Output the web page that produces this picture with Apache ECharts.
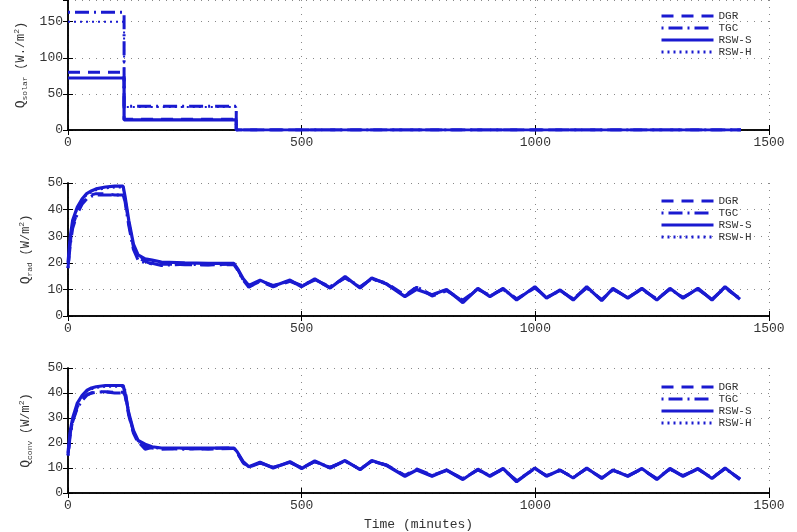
<!DOCTYPE html>
<html>
<head>
<meta charset="utf-8">
<script src="https://cdn.jsdelivr.net/npm/echarts@6/dist/echarts.min.js"></script>
<style>
    html, body { margin: 0; padding: 0; background: #fff; }
    #chart { width: 797px; height: 532px; }
</style>
</head>
<body>
<div id="chart"></div>
<script>
// x tick labels
const xTicks = [0, 500, 1000, 1500];
const seriesNames = ['DGR', 'TGC', 'RSW-S', 'RSW-H'];

// solar panel: step profile
const solarTime = [0, 120, 120, 360, 360, 1440];
const solarDGR = [80, 80, 15, 15, 0, 0];
const solarTGC = [163, 163, 33, 33, 0, 0];
const solarRSWS = [72, 72, 14, 14, 0, 0];
const solarRSWH = [150, 150, 32, 32, 0, 0];

// time samples for the radiative / convective panels
const simTime = [0, 5, 10, 20, 30, 40, 50, 60, 80, 100,
    118, 122, 130, 140, 150, 165, 180, 200, 250, 300,
    355, 362, 375, 387, 411, 439, 475, 500, 528, 561,
    593, 625, 650, 682, 721, 746, 779, 810, 845, 877,
    903, 931, 960, 999, 1024, 1053, 1081, 1110, 1142, 1166,
    1198, 1228, 1260, 1288, 1316, 1348, 1378, 1406, 1438];

const radRSWS = [20, 30, 36, 41, 44, 46, 47, 47.8, 48.5, 48.8,
    48.8, 45, 36, 27, 23, 21.5, 21, 20.3, 20, 19.8,
    19.8, 18, 14, 11.5, 13.5, 11.2, 13.5, 11, 14, 10.5,
    14.8, 10.5, 14.3, 12, 7.3, 10, 8, 10, 5, 10.4,
    7.3, 10.4, 6, 11, 6.7, 9.8, 6, 11, 5.8, 10.4,
    6.7, 10.4, 6, 10.4, 6.7, 10.4, 6, 11, 6.3];
const radDGR = [18, 28, 34, 39, 42.5, 44.5, 45.5, 46, 46, 45.5,
    45.5, 44, 35, 26, 22, 20.5, 19.5, 19.5, 19.3, 19.3,
    19.5, 18, 13.5, 11, 13, 11, 13, 11.3, 13.5, 10.8,
    14.3, 10.8, 14, 12.3, 7.8, 10.8, 7.5, 9.5, 6, 10,
    7.8, 10, 6.5, 10.5, 7, 9.5, 6.5, 10.5, 6.2, 10,
    7, 10, 6.4, 10, 7, 10, 6.4, 10.5, 6.5];
const radTGC = [18, 27, 33, 38.5, 42, 44, 45, 45.5, 45.5, 45.5,
    45.5, 43, 34, 25, 21, 20, 19.8, 19, 19.5, 19.2,
    19.3, 17.5, 13.5, 10.8, 13.2, 11.5, 13.2, 11.5, 13.7, 11,
    14.5, 11, 14, 12, 7.5, 11, 7.8, 9.8, 5.5, 10.2,
    7.5, 10.2, 6.3, 10.8, 6.9, 9.6, 6.3, 10.8, 6, 10.2,
    6.9, 10.2, 6.2, 10.2, 6.9, 10.2, 6.2, 10.8, 6.4];
const radRSWH = [19, 29, 35, 40.5, 43.5, 45.5, 46.5, 47.3, 48, 48.3,
    48.3, 44.5, 35.5, 26.5, 22.5, 21, 20.5, 20, 19.8, 19.7,
    19.7, 17.8, 13.8, 11.3, 13.3, 11.3, 13.3, 11.1, 13.8, 10.6,
    14.6, 10.6, 14.1, 12.1, 7.5, 10.2, 7.9, 9.9, 5.3, 10.3,
    7.4, 10.3, 6.1, 10.9, 6.8, 9.7, 6.1, 10.9, 5.9, 10.3,
    6.8, 10.3, 6.1, 10.3, 6.8, 10.3, 6.1, 10.9, 6.3];

const convRSWS = [16, 25, 30, 36, 39, 41, 42, 42.5, 43, 43,
    43, 40, 32, 25, 21, 19.5, 18.5, 18, 18, 18,
    18, 16.5, 12.5, 10.5, 12.3, 10, 12.5, 9.8, 12.8, 10,
    13, 9.3, 13, 11, 6.7, 9.2, 6.7, 9.2, 5.4, 9.5,
    6.7, 9.8, 4.5, 10, 6.7, 9.2, 6, 10, 5.8, 9.2,
    6.7, 9.8, 5.4, 9.8, 6.7, 9.8, 5.8, 10, 5.4];
const convDGR = [15, 24, 29, 34.5, 37.5, 39.3, 40, 40.5, 40.5, 40.3,
    40.3, 39, 31, 24, 20, 18.5, 18, 17.5, 17.8, 17.5,
    17.8, 16, 12, 10.3, 12, 10.3, 12.2, 10.1, 12.5, 10.3,
    12.7, 9.6, 12.7, 11.2, 7.1, 9.6, 7.1, 9, 5.8, 9.2,
    7, 9.5, 5, 9.7, 7, 9, 6.3, 9.7, 6.2, 9,
    7, 9.5, 5.8, 9.5, 7, 9.5, 6.1, 9.7, 5.7];
const convTGC = [15, 23.5, 28.5, 34, 37, 39, 40, 40.3, 40.5, 40,
    40, 41.5, 31.5, 24.5, 20.5, 17.5, 18.3, 17.8, 17.5, 17.8,
    18, 16.2, 12.2, 10.4, 12.1, 10.2, 12.3, 10, 12.6, 10.2,
    12.8, 9.5, 12.8, 11.1, 6.9, 9.4, 6.9, 9.1, 5.6, 9.3,
    6.9, 9.6, 4.8, 9.8, 6.8, 9.1, 6.2, 9.8, 6, 9.1,
    6.8, 9.6, 5.6, 9.6, 6.8, 9.6, 5.9, 9.8, 5.5];
const convRSWH = [15.5, 24.5, 29.5, 35.5, 38.5, 40.5, 41.5, 42, 42.5, 42.5,
    42.5, 39.5, 31.5, 24.5, 20.7, 19.2, 18.3, 17.9, 17.9, 17.9,
    17.9, 16.3, 12.3, 10.4, 12.2, 10.1, 12.4, 9.9, 12.7, 10.1,
    12.9, 9.4, 12.9, 11.1, 6.8, 9.3, 6.8, 9.2, 5.5, 9.4,
    6.8, 9.7, 4.7, 9.9, 6.8, 9.1, 6.1, 9.9, 5.9, 9.1,
    6.8, 9.7, 5.5, 9.7, 6.8, 9.7, 5.9, 9.9, 5.5];

const blue = '#1a1ad0';
const monoFont = 'Liberation Mono';

const lineTypes = {
    'DGR': { type: [12, 8], width: 3 },
    'TGC': { type: [2, 5, 14, 5], width: 3 },
    'RSW-S': { type: 'solid', width: 3.2 },
    'RSW-H': { type: [2, 4], width: 2 },
};

function zip(t, v) {
    return t.map((x, i) => [x, v[i]]);
}

const panels = [
    { top: -2, height: 132, max: 180, interval: 50,
      name: '{q|Q}{sub|solar}  {t|(W./m}{sup|2}{t|)}',
      time: solarTime, data: [solarDGR, solarTGC, solarRSWS, solarRSWH], legendTop: 10 },
    { top: 183, height: 133, max: 50, interval: 10,
      name: '{q|Q}{sub|rad}  {t|(W/m}{sup|2}{t|)}',
      time: simTime, data: [radDGR, radTGC, radRSWS, radRSWH], legendTop: 195 },
    { top: 368, height: 133, max: 50, interval: 10,
      name: '{q|Q}{sub|conv}  {t|(W/m}{sup|2}{t|)}',
      time: simTime, data: [convDGR, convTGC, convRSWS, convRSWH], legendTop: 381 },
];

const grid = [];
const xAxis = [];
const yAxis = [];
const series = [];
const legend = [];

const richName = {
    q: { fontFamily: monoFont, fontSize: 13, color: '#333' },
    t: { fontFamily: monoFont, fontSize: 12, color: '#333' },
    sub: { fontFamily: monoFont, fontSize: 8, color: '#333', padding: [8, 0, 0, 0] },
    sup: { fontFamily: monoFont, fontSize: 8, color: '#333', padding: [0, 0, 8, 0] },
};

panels.forEach((p, i) => {
    grid.push({ left: 68, right: 28, top: p.top, height: p.height });
    // bottom x axis
    xAxis.push({
        type: 'value', gridIndex: i, min: 0, max: 1500, interval: 500,
        axisLine: { lineStyle: { color: '#000', width: 1.5 } },
        axisTick: { inside: true, length: 5, lineStyle: { color: '#000' } },
        axisLabel: { fontFamily: monoFont, fontSize: 13, color: '#333', margin: 6,
            formatter: v => String(v) },
        splitLine: { show: true, lineStyle: { type: [1, 6], color: '#888' } },
        name: i === 2 ? 'Time (minutes)' : '',
        nameLocation: 'middle', nameGap: 25,
        nameTextStyle: { fontFamily: monoFont, fontSize: 13, color: '#333' },
    });
    // top x axis (box)
    xAxis.push({
        type: 'value', gridIndex: i, position: 'top', min: 0, max: 1500, interval: 500,
        axisLine: { lineStyle: { color: '#000', width: 1.5 } },
        axisTick: { inside: true, length: 5, lineStyle: { color: '#000' } },
        axisLabel: { show: false },
        splitLine: { show: false },
    });
    yAxis.push({
        type: 'value', gridIndex: i, min: 0, max: p.max, interval: p.interval,
        axisLine: { show: true, lineStyle: { color: '#000', width: 1.5 } },
        axisTick: { show: true, inside: true, length: 5, lineStyle: { color: '#000' } },
        axisLabel: { fontFamily: monoFont, fontSize: 13, color: '#333', margin: 5, showMaxLabel: p.max === 50 },
        splitLine: { show: true, lineStyle: { type: [1, 6], color: '#888' } },
        name: p.name,
        nameLocation: 'middle', nameRotate: 90, nameGap: 34,
        nameTextStyle: { rich: richName },
    });
    yAxis.push({
        type: 'value', gridIndex: i, position: 'right', min: 0, max: p.max, interval: p.interval,
        axisLine: { show: true, lineStyle: { color: '#000', width: 1.5 } },
        axisTick: { show: true, inside: true, length: 5, lineStyle: { color: '#000' } },
        axisLabel: { show: false },
        splitLine: { show: false },
    });
    seriesNames.forEach((name, k) => {
        series.push({
            name,
            type: 'line',
            xAxisIndex: i * 2,
            yAxisIndex: i * 2,
            data: zip(p.time, p.data[k]),
            symbol: 'none',
            smooth: false,
            color: blue,
            lineStyle: Object.assign({ color: blue }, lineTypes[name]),
            z: 4 - k,
        });
    });
    legend.push({
        left: 660, top: p.legendTop, padding: 0,
        orient: 'vertical',
        itemWidth: 52, itemHeight: 12, itemGap: 0,
        data: seriesNames,
        itemStyle: { opacity: 0 },
        lineStyle: { width: 3 },
        textStyle: { fontFamily: monoFont, fontSize: 11, lineHeight: 12, color: '#333' },
        selectedMode: false,
    });
});

const myChart = echarts.init(document.getElementById('chart'), null, { renderer: 'canvas' });
myChart.setOption({
    animation: false,
    backgroundColor: '#fff',
    grid,
    xAxis,
    yAxis,
    legend,
    series,
});
</script>
</body>
</html>
